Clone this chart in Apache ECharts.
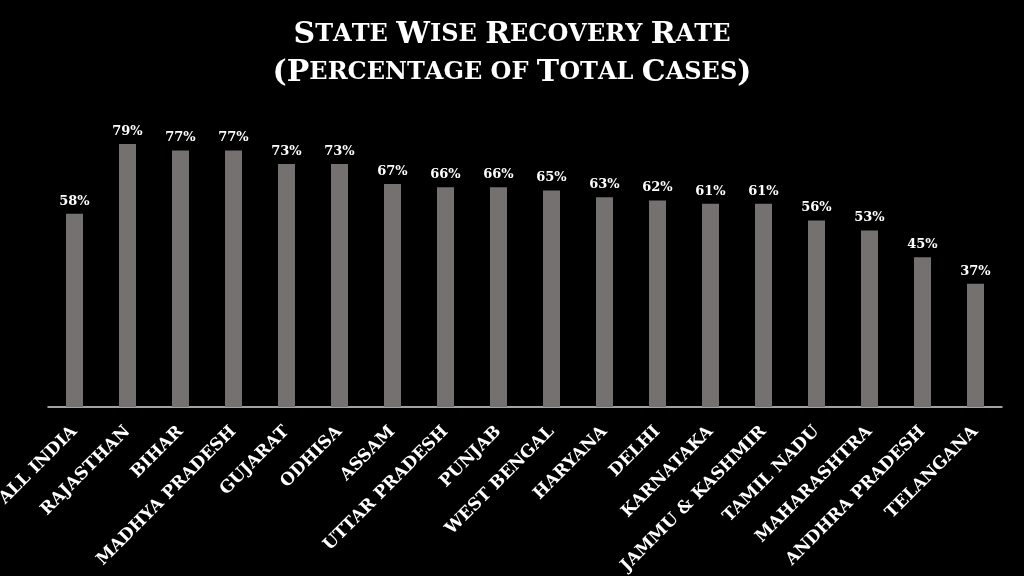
<!DOCTYPE html>
<html><head><meta charset="utf-8">
<script src="https://cdn.jsdelivr.net/npm/echarts@6/dist/echarts.min.js"></script>
<style>html,body{margin:0;padding:0;background:#000;}#c{width:1024px;height:576px;}</style>
</head><body><div id="c"></div>
<script>
const titleLines = ["State Wise Recovery Rate", "(Percentage of Total Cases)"];
const categories = ["ALL INDIA","RAJASTHAN","BIHAR","MADHYA PRADESH","GUJARAT","ODHISA","ASSAM","UTTAR PRADESH","PUNJAB","WEST BENGAL","HARYANA","DELHI","KARNATAKA","JAMMU & KASHMIR","TAMIL NADU","MAHARASHTRA","ANDHRA PRADESH","TELANGANA"];
const recoveryRate = [58,79,77,77,73,73,67,66,66,65,63,62,61,61,56,53,45,37];

function smallCaps(s){
  let out = '';
  for (const ch of s){
    if (ch === ' ') out += '{s| }';
    else if (ch === ch.toUpperCase() && ch !== ch.toLowerCase()) out += '{b|' + ch + '}';
    else if (ch === '(' || ch === ')') out += '{b|' + ch + '}';
    else out += '{s|' + ch.toUpperCase() + '}';
  }
  return out;
}

const chart = echarts.init(document.getElementById('c'));
chart.setOption({
  backgroundColor: '#000000',
  animation: false,
  title: {
    text: titleLines.map(smallCaps).join('\n'),
    left: 'center',
    top: 11,
    textStyle: {
      color: '#ffffff',
      lineHeight: 38,
      rich: {
        b: {fontFamily: 'DejaVu Serif', fontWeight: 'bold', fontSize: 30, color: '#ffffff', lineHeight: 38},
        s: {fontFamily: 'DejaVu Serif', fontWeight: 'bold', fontSize: 24, color: '#ffffff', lineHeight: 38}
      }
    }
  },
  grid: {left: 48, right: 22, top: 74, bottom: 169, containLabel: false, outerBoundsMode: 'none'},
  xAxis: {
    type: 'category',
    data: categories,
    axisLine: {lineStyle: {color: '#d9d9d9', width: 1.5}},
    axisTick: {show: false},
    axisLabel: {
      interval: 0,
      rotate: 45,
      margin: 22,
      color: '#ffffff',
      fontFamily: 'DejaVu Serif',
      fontWeight: 'bold',
      fontSize: 17
    }
  },
  yAxis: {
    type: 'value',
    min: 0,
    max: 100,
    show: false,
    splitLine: {show: false}
  },
  series: [{
    type: 'bar',
    data: recoveryRate,
    barWidth: 17,
    itemStyle: {color: '#767171'},
    label: {
      show: true,
      position: 'top',
      distance: 6,
      formatter: '{c}%',
      color: '#ffffff',
      fontFamily: 'DejaVu Serif',
      fontWeight: 'bold',
      fontSize: 13
    }
  }]
});
</script>
</body></html>
